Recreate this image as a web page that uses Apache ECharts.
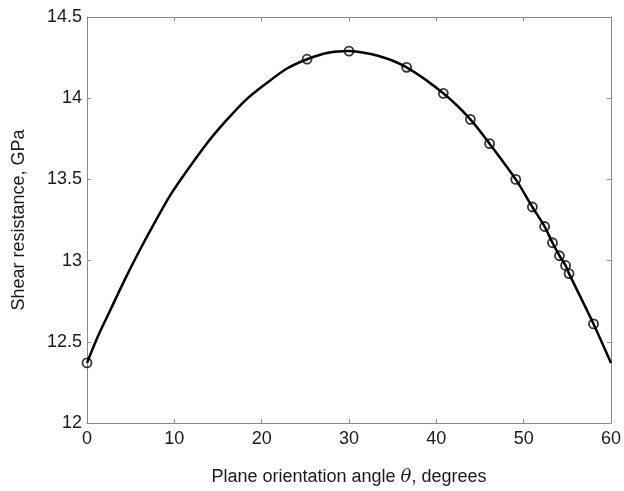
<!DOCTYPE html>
<html>
<head>
<meta charset="utf-8">
<script src="https://cdn.jsdelivr.net/npm/echarts@6/dist/echarts.min.js"></script>
<style>html,body{margin:0;padding:0;background:#fff}#c{width:624px;height:491px}</style>
</head>
<body>
<div id="c"></div>
<script>
// Smooth curve
const curveX = [0, 1.3, 2.8, 4.3, 5.9, 7.4, 9.5, 11.4, 13.7, 15.9, 18.2, 20.5, 22.8, 25.2, 27.6, 30, 33.4, 36.6, 40.8, 43.9, 46.1, 49.1, 51.0, 52.4, 53.3, 54.1, 54.8, 55.2, 58.0, 60];
const curveY = [12.37, 12.54, 12.71, 12.88, 13.05, 13.20, 13.40, 13.55, 13.72, 13.86, 13.99, 14.09, 14.18, 14.24, 14.28, 14.29, 14.26, 14.19, 14.03, 13.87, 13.72, 13.50, 13.33, 13.21, 13.11, 13.03, 12.97, 12.92, 12.61, 12.37];
// Circle markers
const markX = [0, 25.2, 30, 36.6, 40.8, 43.9, 46.1, 49.1, 51.0, 52.4, 53.3, 54.1, 54.8, 55.2, 58.0];
const markY = [12.37, 14.24, 14.29, 14.19, 14.03, 13.87, 13.72, 13.50, 13.33, 13.21, 13.11, 13.03, 12.97, 12.92, 12.61];
const xTicks = [0, 10, 20, 30, 40, 50, 60];
const yTicks = [12, 12.5, 13, 13.5, 14, 14.5];

const font = 'Liberation Sans, Arial, sans-serif';
const axisCol = '#8a8a8a';
const chart = echarts.init(document.getElementById('c'));
const xBase = {
  type: 'value', min: xTicks[0], max: xTicks[xTicks.length-1], interval: 10,
  axisLine: {show: true, onZero: false, lineStyle: {color: axisCol, width: 1}},
  axisTick: {show: true, inside: true, length: 4, lineStyle: {color: axisCol}},
  splitLine: {show: false}
};
const yBase = {
  type: 'value', min: yTicks[0], max: yTicks[yTicks.length-1], interval: 0.5,
  axisLine: {show: true, onZero: false, lineStyle: {color: axisCol, width: 1}},
  axisTick: {show: true, inside: true, length: 4, lineStyle: {color: axisCol}},
  splitLine: {show: false}
};
chart.setOption({
  animation: false,
  backgroundColor: '#ffffff',
  grid: {left: 87, right: 11, top: 17, bottom: 59},
  xAxis: [
    Object.assign({}, xBase, {
      position: 'bottom',
      axisLabel: {color: '#1a1a1a', fontSize: 18, fontFamily: font, margin: 7},
      name: '{n|Plane orientation angle }{t|θ}{n|, degrees}',
      nameLocation: 'middle', nameGap: 45,
      nameTextStyle: {rich: {
        n: {fontSize: 18, fontFamily: font, color: '#1a1a1a'},
        t: {fontSize: 18, fontFamily: 'DejaVu Serif, serif', fontStyle: 'italic', color: '#1a1a1a'}
      }}
    }),
    Object.assign({}, xBase, {position: 'top', axisLabel: {show: false}})
  ],
  yAxis: [
    Object.assign({}, yBase, {
      position: 'left',
      axisLabel: {color: '#1a1a1a', fontSize: 18, fontFamily: font, margin: 5,
        formatter: v => String(v)},
      name: 'Shear resistance, GPa',
      nameLocation: 'middle', nameGap: 59,
      nameTextStyle: {fontSize: 18, fontFamily: font, color: '#1a1a1a'}
    }),
    Object.assign({}, yBase, {position: 'right', axisLabel: {show: false}})
  ],
  series: [
    {
      type: 'line', smooth: 0.25, showSymbol: false, symbol: 'none',
      data: curveX.map((x, i) => [x, curveY[i]]),
      lineStyle: {color: '#000', width: 2.5},
      z: 2
    },
    {
      type: 'scatter', symbol: 'circle', symbolSize: 9,
      data: markX.map((x, i) => [x, markY[i]]),
      itemStyle: {color: 'rgba(255,255,255,0)', borderColor: '#000', borderWidth: 1.8},
      z: 3
    }
  ]
});
</script>
</body>
</html>
